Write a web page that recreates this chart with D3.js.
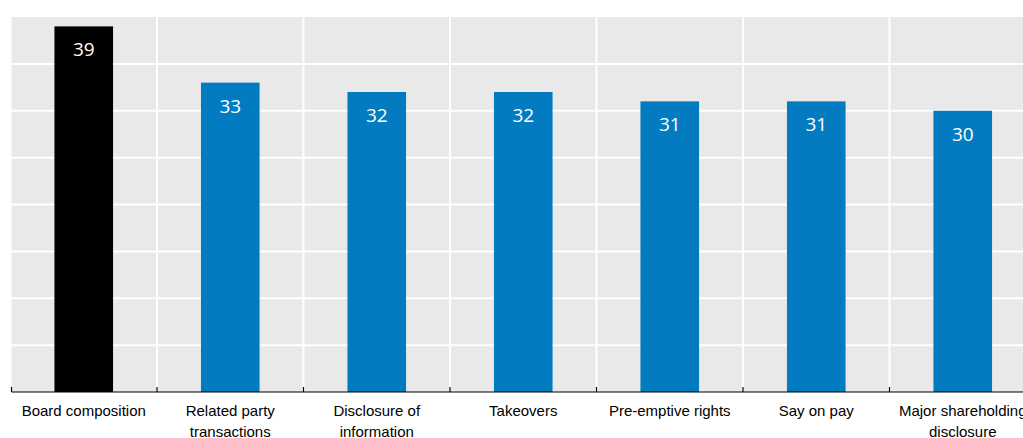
<!DOCTYPE html>
<html lang="en">
<head>
  <meta charset="UTF-8">
  <title>Bar chart</title>
  <script src="https://d3js.org/d3.v7.min.js"></script>
  <style>
    body { margin: 0; background: #fff; }
    .label { font-family: "Open Sans", "Noto Sans", sans-serif; font-size: 19px; fill: #fff; text-anchor: middle; }
    .cat { font-family: "Liberation Sans Narrow", "Arial Narrow", "Liberation Sans", sans-serif; font-size: 15px; fill: #000; text-anchor: middle; }
  </style>
</head>
<body>
  <div id="chart"></div>
  <script>
    const categories = [
      ["Board composition"],
      ["Related party", "transactions"],
      ["Disclosure of", "information"],
      ["Takeovers"],
      ["Pre-emptive rights"],
      ["Say on pay"],
      ["Major shareholding", "disclosure"]
    ];
    const values = [39, 33, 32, 32, 31, 31, 30];
    const yTicks = [0, 5, 10, 15, 20, 25, 30, 35, 40];

    const W = 1023, H = 438;
    const plotLeft = 10.5, plotW = 1025.5, plotTop = 17, base = 392;

    const svg = d3.select("#chart").append("svg")
      .attr("width", W).attr("height", H);

    const x = d3.scaleBand()
      .domain(d3.range(values.length))
      .range([plotLeft, plotLeft + plotW])
      .paddingInner(0.6)
      .paddingOuter(0.3);
    const step = x.step();

    const y = d3.scaleLinear().domain([0, 40]).range([base, plotTop]);

    // background
    svg.append("rect")
      .attr("x", plotLeft + 1).attr("y", plotTop)
      .attr("width", plotW).attr("height", base - plotTop)
      .attr("fill", "#e9e9e9");

    // horizontal grid
    svg.selectAll(".hg").data(yTicks.slice(1, -1)).enter().append("line")
      .attr("x1", plotLeft).attr("x2", plotLeft + plotW)
      .attr("y1", d => y(d)).attr("y2", d => y(d))
      .attr("stroke", "#fff").attr("stroke-width", 2);

    // vertical grid between categories
    const bounds = d3.range(1, values.length).map(i => x(i) - step * 0.3);
    svg.selectAll(".vg").data(bounds).enter().append("line")
      .attr("x1", d => d).attr("x2", d => d)
      .attr("y1", plotTop).attr("y2", base)
      .attr("stroke", "#fff").attr("stroke-width", 2);

    // bars
    svg.selectAll(".bar").data(values).enter().append("rect")
      .attr("x", (d, i) => x(i))
      .attr("y", d => y(d))
      .attr("width", x.bandwidth())
      .attr("height", d => base - y(d))
      .attr("fill", (d, i) => i === 0 ? "#000000" : "#037bc1");

    // value labels
    svg.selectAll(".label").data(values).enter().append("text")
      .attr("class", "label")
      .attr("x", (d, i) => x(i) + x.bandwidth() / 2)
      .attr("y", d => y(d) + 30)
      .text(d => d);

    // x axis
    svg.append("line")
      .attr("x1", plotLeft + 1).attr("x2", plotLeft + plotW)
      .attr("y1", base).attr("y2", base)
      .attr("stroke", "#000").attr("stroke-width", 1.2);
    svg.selectAll(".tick").data([plotLeft + 1].concat(bounds)).enter().append("line")
      .attr("x1", d => d).attr("x2", d => d)
      .attr("y1", base).attr("y2", base - 5)
      .attr("stroke", "#000").attr("stroke-width", 1.2);

    // category labels
    const cat = svg.selectAll(".cat").data(categories).enter().append("text")
      .attr("class", "cat")
      .attr("x", (d, i) => x(i) + x.bandwidth() / 2)
      .attr("y", 416);
    cat.selectAll("tspan").data(d => d).enter().append("tspan")
      .attr("x", function () { return this.parentNode.getAttribute("x"); })
      .attr("dy", (d, j) => j === 0 ? 0 : 21)
      .text(d => d);
  </script>
</body>
</html>
